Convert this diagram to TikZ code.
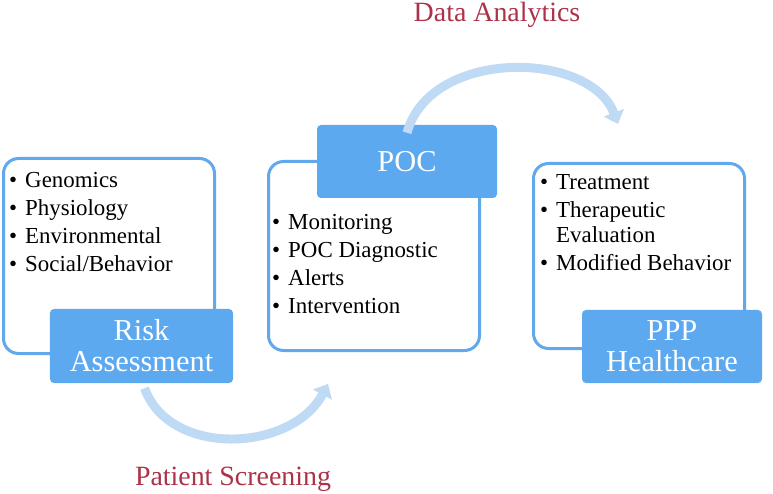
\documentclass[tikz,border=0pt]{standalone}
\usepackage{fontspec}
\setmainfont{Liberation Serif}
\usetikzlibrary{arrows.meta}

\definecolor{boxblue}{RGB}{93,169,240}
\definecolor{lineblue}{RGB}{98,168,236}
\definecolor{arcblue}{RGB}{190,218,244}
\definecolor{labelred}{RGB}{172,50,72}

\tikzset{
  outbox/.style={draw=lineblue, line width=3bp, rounded corners=15bp, fill=white, anchor=north west},
  titlebox/.style={fill=boxblue, rounded corners=4bp, text=white, align=center,
    font=\fontsize{30.5}{31}\selectfont, inner sep=0pt},
  bullets/.style={anchor=base west, inner sep=0pt, font=\fontsize{23}{28}\selectfont},
  steplabel/.style={text=labelred, font=\fontsize{28}{30}\selectfont},
  flowarc/.style={draw=arcblue, line width=9bp, -{Triangle[length=12bp,width=21bp]}}
}

\newcommand{\bitem}{\textbullet}

\begin{document}
\begin{tikzpicture}[x=1bp,y=-1bp]
\useasboundingbox (0,0) rectangle (773,494);

% outline boxes
\node[outbox, minimum width=211bp, minimum height=195bp] (riskbox) at (2,157) {};
\node[outbox, minimum width=211bp, minimum height=189bp] (pocbox) at (267,160) {};
\node[outbox, minimum width=211bp, minimum height=185bp] (pppbox) at (532,162) {};

% bullet lists
\node[bullets] (risklist) at (9,188) {\begin{tabular}[t]{@{}l@{\hspace{8bp}}l@{}}
\bitem & Genomics\\ \bitem & Physiology\\ \bitem & Environmental\\ \bitem & Social/Behavior
\end{tabular}};
\node[bullets] (poclist) at (272,230) {\begin{tabular}[t]{@{}l@{\hspace{8bp}}l@{}}
\bitem & Monitoring\\ \bitem & POC Diagnostic\\ \bitem & Alerts\\ \bitem & Intervention
\end{tabular}};
\node[bullets] (ppplist) at (540,190) {\begin{tabular}[t]{@{}l@{\hspace{8bp}}l@{}}
\bitem & Treatment\\ \bitem & Therapeutic\\[-3bp] & Evaluation\\ \bitem & Modified Behavior
\end{tabular}};

% title boxes
\node[titlebox, minimum width=183bp, minimum height=74bp] (risk) at (141.5,346) {Risk\\Assessment};
\node[titlebox, minimum width=180bp, minimum height=73bp] (poc) at (407,161.5) {POC};
\node[titlebox, minimum width=180bp, minimum height=73bp] (ppp) at (672,346.5) {PPP\\Healthcare};

% arcs
\coordinate (scrend) at (328,384);
\coordinate (daend) at (618,124);
\draw[flowarc] ([xshift=3bp,yshift=-5bp]risk.south) .. controls (170,458) and (292,452) .. (scrend);
\draw[flowarc] ([yshift=-8bp]poc.north) .. controls (430,48) and (590,50) .. (daend);

% labels
\node[steplabel] (screening) at (233,479) {Patient Screening};
\node[steplabel] (analytics) at (497,15) {Data Analytics};

\end{tikzpicture}
\end{document}
